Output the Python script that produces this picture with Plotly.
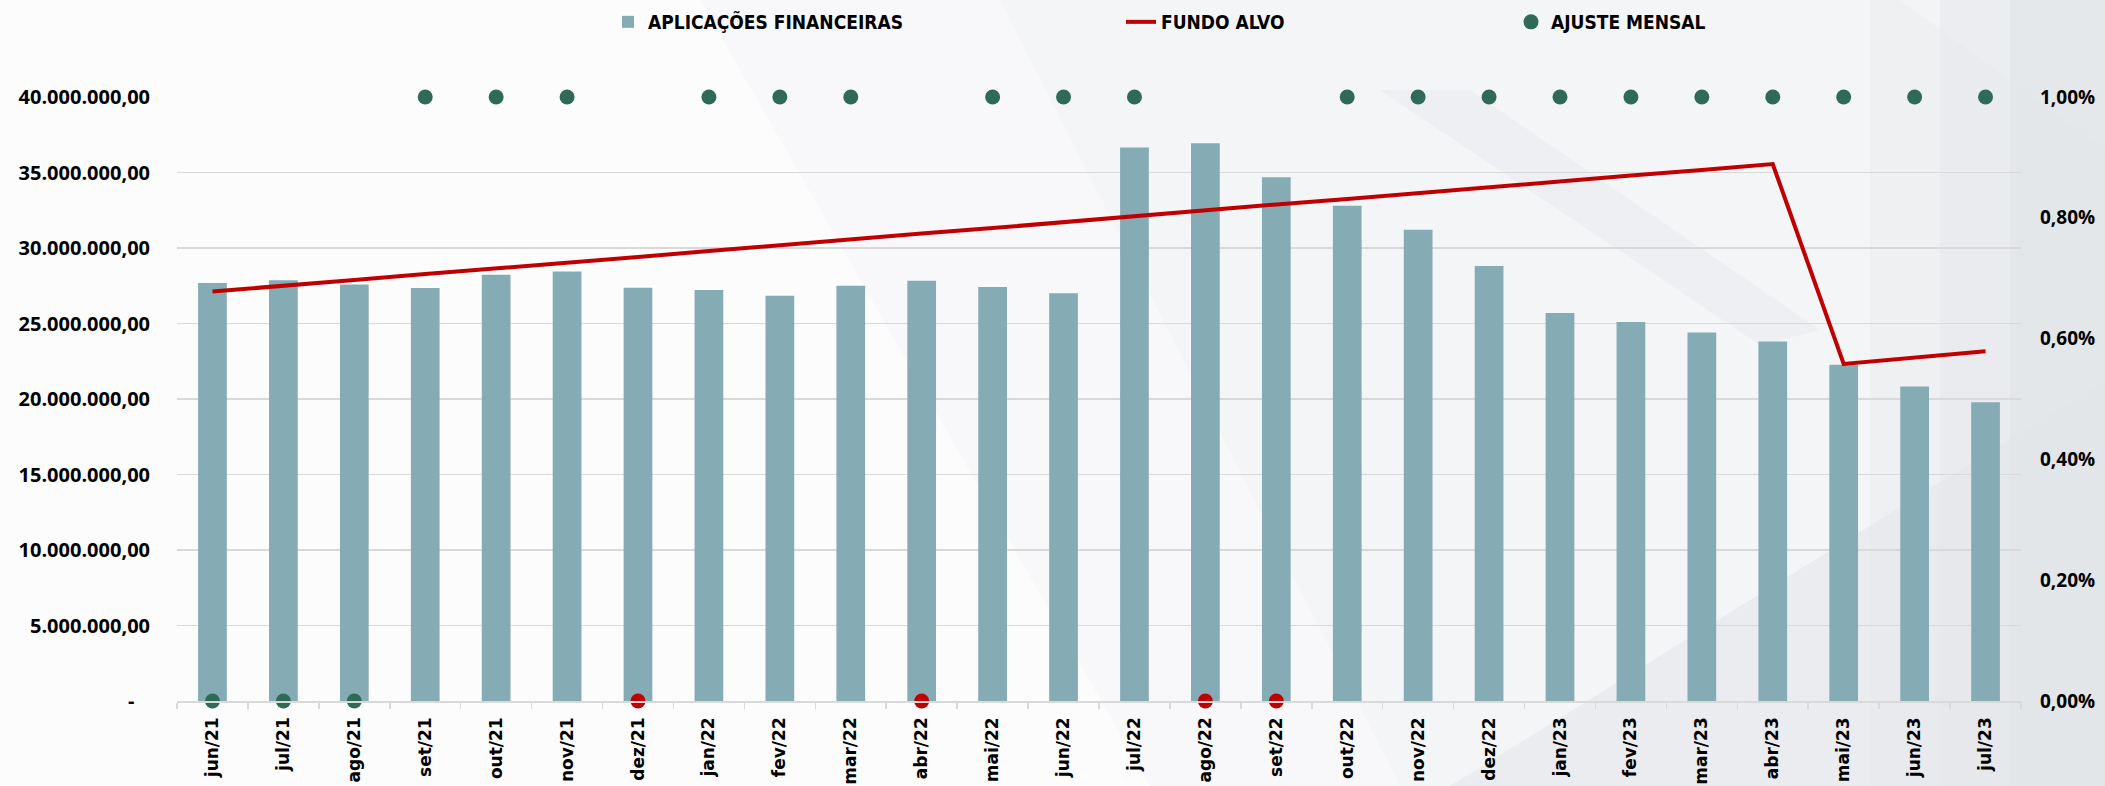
import plotly.graph_objects as go

# ---------------- DATA ----------------
months = ["jun/21", "jul/21", "ago/21", "set/21", "out/21", "nov/21", "dez/21",
          "jan/22", "fev/22", "mar/22", "abr/22", "mai/22", "jun/22", "jul/22",
          "ago/22", "set/22", "out/22", "nov/22", "dez/22", "jan/23", "fev/23",
          "mar/23", "abr/23", "mai/23", "jun/23", "jul/23"]

# APLICAÇÕES FINANCEIRAS (R$)
aplicacoes = [27680000, 27860000, 27590000, 27350000, 28230000, 28450000, 27370000,
              27220000, 26840000, 27500000, 27830000, 27420000, 27000000, 36650000,
              36940000, 34690000, 32790000, 31210000, 28800000, 25700000, 25100000,
              24400000, 23800000, 22260000, 20830000, 19790000]

# FUNDO ALVO (% of right axis)
fundo_alvo = [0.678, 0.687, 0.697, 0.707, 0.716, 0.726, 0.735, 0.745, 0.755, 0.764,
              0.774, 0.783, 0.793, 0.803, 0.812, 0.822, 0.831, 0.841, 0.851, 0.860,
              0.870, 0.879, 0.889, 0.558, 0.568, 0.579]

# AJUSTE MENSAL (% of right axis)
ajuste_mensal = [0.00, 0.00, 0.00, 1.00, 1.00, 1.00, 0.00, 1.00, 1.00, 1.00, 0.00,
                 1.00, 1.00, 1.00, 0.00, 0.00, 1.00, 1.00, 1.00, 1.00, 1.00, 1.00,
                 1.00, 1.00, 1.00, 1.00]
ajuste_vermelho = ["dez/21", "abr/22", "ago/22", "set/22"]

left_tick_vals = [0, 5000000, 10000000, 15000000, 20000000, 25000000, 30000000,
                  35000000, 40000000]
left_tick_text = ["-\u00a0\u00a0\u00a0", "5.000.000,00", "10.000.000,00", "15.000.000,00",
                  "20.000.000,00", "25.000.000,00", "30.000.000,00", "35.000.000,00",
                  "40.000.000,00"]
right_tick_vals = [0.0, 0.2, 0.4, 0.6, 0.8, 1.0]
right_tick_text = ["0,00%", "0,20%", "0,40%", "0,60%", "0,80%", "1,00%"]

# ---------------- STYLE ----------------
W, H = 2105, 786
ML, MR, MT, MB = 177, 84, 97, 85
BAR_COLOR = "#85ABB5"
LINE_COLOR = "#C00000"
GREEN = "#2F6A58"
RED = "#C00000"
GRID = "#D9D9D9"

pw, ph = W - ML - MR, H - MT - MB


def px2p(x, y):
    return (x - ML) / pw, (H - MB - y) / ph


dot_colors = [RED if m in ajuste_vermelho else GREEN for m in months]

fig = go.Figure()
fig.add_trace(go.Bar(
    x=months, y=aplicacoes, name="APLICAÇÕES FINANCEIRAS",
    marker=dict(color=BAR_COLOR, line=dict(width=0)),
    legend="legend",
))
fig.add_trace(go.Scatter(
    x=months, y=fundo_alvo, yaxis="y2", mode="lines", name="FUNDO ALVO",
    line=dict(color=LINE_COLOR, width=4), cliponaxis=False, legend="legend2",
))
fig.add_trace(go.Scatter(
    x=months, y=ajuste_mensal, yaxis="y2", mode="markers", name="AJUSTE MENSAL",
    marker=dict(size=15, color=dot_colors, line=dict(width=0)),
    cliponaxis=False, legend="legend3",
))


# decorative background shapes (pixel coordinates converted to paper space)
def poly(points, color, opacity):
    pts = [px2p(x, y) for x, y in points]
    path = "M " + " L ".join(f"{a:.5f},{b:.5f}" for a, b in pts) + " Z"
    return dict(type="path", path=path, xref="paper", yref="paper",
                fillcolor=color, opacity=opacity, line=dict(width=0), layer="below")


shapes = [
    poly([(700, 0), (1900, 0), (2105, 150), (2105, 786), (1150, 786)], "#F1F2F4", 0.35),
    poly([(1000, 0), (1900, 0), (2105, 150), (2105, 786), (1400, 786)], "#EEF0F2", 0.35),
    poly([(1380, 90), (1470, 90), (1820, 330), (1760, 345)], "#DDE0E5", 0.25),
    poly([(1450, 786), (2105, 380), (2105, 786)], "#DADEE2", 0.35),
    poly([(1870, 0), (2105, 0), (2105, 786), (1870, 786)], "#E6E9EB", 0.40),
    poly([(1940, 0), (2105, 0), (2105, 786), (1940, 786)], "#E3E6E9", 0.50),
    poly([(2010, 0), (2105, 0), (2105, 786), (2010, 786)], "#E0E3E6", 0.50),
]

legend_font = dict(family="Liberation Sans Narrow, Arial Narrow, DejaVu Sans Condensed",
                   size=19, color="#000000", weight="bold")
ly = (H - MB - 22) / ph


def legend_at(xpx):
    return dict(x=(xpx - ML) / pw, y=ly, xanchor="left", yanchor="middle",
                orientation="h", bgcolor="rgba(0,0,0,0)", borderwidth=0,
                font=legend_font, itemclick=False, itemdoubleclick=False)


left_font = dict(family="Open Sans", size=20, color="#000000", weight="bold")
right_font = dict(family="Open Sans", size=19, color="#000000", weight="bold")

fig.update_layout(
    template="none",
    width=W, height=H,
    margin=dict(l=ML, r=MR, t=MT, b=MB, autoexpand=False),
    paper_bgcolor="#FCFCFD",
    plot_bgcolor="rgba(0,0,0,0)",
    bargap=0.595,
    showlegend=True,
    legend=legend_at(608),
    legend2=legend_at(1121),
    legend3=legend_at(1511),
    shapes=shapes,
    xaxis=dict(
        type="category", range=[-0.5, len(months) - 0.5],
        showgrid=False, showline=True, linecolor=GRID, linewidth=1.5,
        ticks="outside", ticklen=6, tickcolor=GRID, tickwidth=1.5, tickson="boundaries",
        tickangle=-90, tickfont=dict(family="DejaVu Sans", size=17, color="#000000",
                                     weight="bold"),
        ticklabelstandoff=8, automargin=False, zeroline=False,
    ),
    yaxis=dict(
        range=[0, 40000000], tickvals=left_tick_vals, ticktext=left_tick_text,
        showgrid=True, gridcolor=GRID, gridwidth=1.5, zeroline=False, showline=False,
        ticks="", tickfont=left_font, ticklabelstandoff=26, automargin=False,
    ),
    yaxis2=dict(
        range=[0, 1.0], tickvals=right_tick_vals, ticktext=right_tick_text,
        overlaying="y", side="right", showgrid=False, zeroline=False, showline=False,
        ticks="", tickfont=right_font, ticklabelstandoff=18, automargin=False,
    ),
)

fig.write_html("out.html",
               config={"displayModeBar": False, "staticPlot": True},
               post_script="document.body.style.margin='0px';"
                           "document.body.style.overflow='hidden';")
